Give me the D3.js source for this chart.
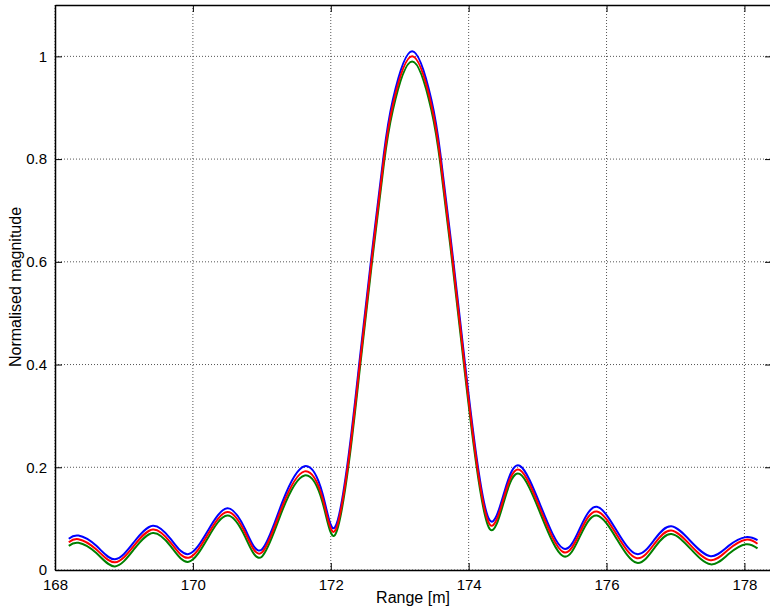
<!DOCTYPE html>
<html>
<head>
    <script src="https://cdnjs.cloudflare.com/ajax/libs/d3/7.8.5/d3.min.js"></script>
    <style>
        body { margin: 0; background: #fff; }
        text { font-family: "Liberation Sans", Arial, sans-serif; fill: #000; }
        .grid line { stroke: #555; stroke-dasharray: 1,2; stroke-width: 1px; }
    </style>
</head>
<body>
    <div id="chart"></div>
    <script>
        const width = 770, height = 614;
        const margin = { left: 55, top: 5, right: -2, bottom: 44 };

        // range samples [m]
        const range = [168.2, 168.34, 168.6, 168.87, 169.15, 169.42, 169.68, 169.94, 170.22, 170.5,
            170.76, 171.0, 171.3, 171.62, 171.88, 172.06, 172.26, 172.42, 172.59, 172.77,
            172.9, 173.18, 173.46, 173.59, 173.77, 173.94, 174.11, 174.31, 174.52, 174.74,
            175.05, 175.37, 175.62, 175.86, 176.15, 176.44, 176.7, 176.94, 177.22, 177.51,
            177.77, 178.02, 178.19];

        const blueVals = [0.061, 0.067, 0.047, 0.021, 0.055, 0.086, 0.060, 0.031, 0.077, 0.120,
            0.079, 0.040, 0.133, 0.202, 0.149, 0.083, 0.224, 0.41, 0.61, 0.81,
            0.915, 1.01, 0.915, 0.81, 0.61, 0.41, 0.224, 0.096, 0.153, 0.203,
            0.123, 0.042, 0.083, 0.123, 0.076, 0.031, 0.060, 0.085, 0.056, 0.027,
            0.047, 0.064, 0.058];

        const redVals = [0.054, 0.060, 0.040, 0.015, 0.048, 0.079, 0.053, 0.024, 0.070, 0.113,
            0.072, 0.034, 0.125, 0.192, 0.140, 0.076, 0.215, 0.40, 0.60, 0.80,
            0.905, 1.0, 0.905, 0.80, 0.60, 0.40, 0.215, 0.088, 0.145, 0.195,
            0.115, 0.035, 0.075, 0.114, 0.068, 0.023, 0.052, 0.077, 0.048, 0.019,
            0.040, 0.059, 0.051];

        const greenVals = [0.047, 0.053, 0.033, 0.007, 0.041, 0.072, 0.046, 0.016, 0.063, 0.106,
            0.064, 0.026, 0.117, 0.184, 0.132, 0.068, 0.206, 0.39, 0.59, 0.79,
            0.895, 0.99, 0.895, 0.79, 0.59, 0.39, 0.206, 0.079, 0.137, 0.187,
            0.107, 0.027, 0.067, 0.106, 0.060, 0.014, 0.044, 0.070, 0.041, 0.011,
            0.031, 0.050, 0.042];

        const xTicks = [168, 170, 172, 174, 176, 178];
        const yTicks = [0, 0.2, 0.4, 0.6, 0.8, 1];

        const series = [
            { name: "blue", color: "#0000ff", values: blueVals },
            { name: "green", color: "#008000", values: greenVals },
            { name: "red", color: "#ff0000", values: redVals }
        ];

        const svg = d3.select("#chart").append("svg")
            .attr("width", width).attr("height", height);

        const x = d3.scaleLinear().domain([168, 178.4]).range([margin.left, width - margin.right]);
        const y = d3.scaleLinear().domain([0, 1.1]).range([height - margin.bottom, margin.top]);

        const x0 = x.range()[0], x1 = x.range()[1];
        const y0 = y.range()[0], y1 = y.range()[1];

        // grid
        const grid = svg.append("g").attr("class", "grid");
        grid.selectAll(".vx").data(xTicks).enter().append("line")
            .attr("x1", d => x(d)).attr("x2", d => x(d))
            .attr("y1", y0).attr("y2", y1);
        grid.selectAll(".hy").data(yTicks).enter().append("line")
            .attr("x1", x0).attr("x2", x1)
            .attr("y1", d => y(d)).attr("y2", d => y(d));

        // curves
        const line = d3.line()
            .x((d, i) => x(range[i]))
            .y(d => y(d))
            .curve(d3.curveNatural);

        svg.append("g").selectAll("path")
            .data(series)
            .enter().append("path")
            .attr("fill", "none")
            .attr("stroke", d => d.color)
            .attr("stroke-width", 2)
            .attr("d", d => line(d.values));

        // axes with inward ticks
        svg.append("g")
            .attr("transform", `translate(0,${y0})`)
            .call(d3.axisBottom(x).tickValues(xTicks).tickFormat(d3.format("d")).tickSizeInner(-7).tickSizeOuter(0).tickPadding(9));
        svg.append("g")
            .attr("transform", `translate(0,${y1})`)
            .call(d3.axisTop(x).tickValues(xTicks).tickFormat("").tickSizeInner(-7).tickSizeOuter(0));
        svg.append("g")
            .attr("transform", `translate(${x0},0)`)
            .call(d3.axisLeft(y).tickValues(yTicks).tickFormat(d => d === 0 ? "0" : d === 1 ? "1" : d3.format(".1f")(d)).tickSizeInner(-7).tickSizeOuter(0).tickPadding(8));
        svg.append("g")
            .attr("transform", `translate(${x1},0)`)
            .call(d3.axisRight(y).tickValues(yTicks).tickFormat("").tickSizeInner(-7).tickSizeOuter(0));

        svg.selectAll(".domain").attr("stroke", "#000").attr("stroke-width", 1.5);
        svg.selectAll(".tick line").attr("stroke", "#000");
        svg.selectAll(".tick text").style("font-size", "15px").attr("font-family", null);

        // labels
        svg.append("text")
            .attr("x", 413).attr("y", 603)
            .attr("text-anchor", "middle")
            .style("font-size", "16px")
            .text("Range [m]");

        svg.append("text")
            .attr("transform", "translate(21,287) rotate(-90)")
            .attr("text-anchor", "middle")
            .style("font-size", "16px")
            .text("Normalised magnitude");
    </script>
</body>
</html>
